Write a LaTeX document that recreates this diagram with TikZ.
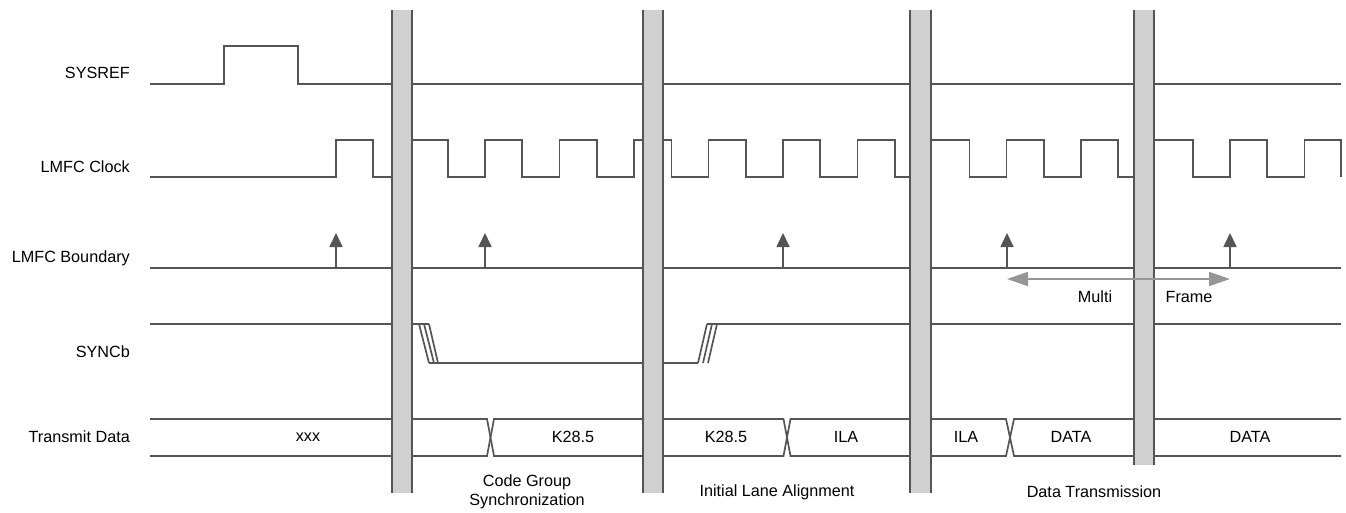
\documentclass[tikz,border=0pt]{standalone}
\usepackage{xcolor}
\usepackage{fontspec}
\setmainfont{Liberation Sans}
\usepackage{tikz}
\usetikzlibrary{arrows.meta,positioning,calc}

\definecolor{wavegray}{RGB}{85,85,85}
\definecolor{barfill}{RGB}{208,208,208}
\definecolor{mfgray}{RGB}{150,150,150}

\tikzset{
  wave/.style={draw=wavegray, line width=1.7pt},
  gapbar/.style={fill=barfill},
  gapedge/.style={draw=wavegray, line width=1.7pt},
  signame/.style={anchor=east, inner sep=0pt},
  txt/.style={inner sep=0pt},
  bnd/.style={wave, -{Triangle[length=14pt,width=13pt]}},
  mfarrow/.style={draw=mfgray, line width=1.7pt, {Triangle[length=21pt,width=14pt]}-{Triangle[length=21pt,width=14pt]}}
}

\begin{document}
\begin{tikzpicture}[x=1pt, y=-1pt, font=\fontsize{16.2}{19}\selectfont]
\useasboundingbox (0,0) rectangle (1346,513);

% Signal names
\node[signame] (nsysref) at (130,73) {SYSREF};
\node[signame] (nclock) at (130,167) {LMFC Clock};
\node[signame] (nbound) at (130,258) {LMFC Boundary};
\node[signame] (nsync) at (130,352) {SYNCb};
\node[signame] (ndata) at (130,437) {Transmit Data};

% SYSREF
\draw[wave] (150,84) -- (224,84) -- (224,46) -- (298,46) -- (298,84) -- (1341,84);

% LMFC Clock
\draw[wave] (150,177) -- (336,177) -- (336,140) -- (373,140) -- (373,177)
  -- (410.5,177) -- (410.5,140) -- (448,140) -- (448,177)
  -- (485,177) -- (485,140) -- (522,140) -- (522,177)
  -- (559.5,177) -- (559.5,140) -- (597,140) -- (597,177)
  -- (634,177) -- (634,140) -- (671.5,140) -- (671.5,177)
  -- (708.5,177) -- (708.5,140) -- (746,140) -- (746,177)
  -- (783,177) -- (783,140) -- (820,140) -- (820,177)
  -- (857.5,177) -- (857.5,140) -- (895,140) -- (895,177)
  -- (931,177) -- (931,140) -- (969.5,140) -- (969.5,177)
  -- (1006.5,177) -- (1006.5,140) -- (1044,140) -- (1044,177)
  -- (1081,177) -- (1081,140) -- (1118,140) -- (1118,177)
  -- (1154,177) -- (1154,140) -- (1193,140) -- (1193,177)
  -- (1230,177) -- (1230,140) -- (1267,140) -- (1267,177)
  -- (1304.5,177) -- (1304.5,140) -- (1341,140) -- (1341,177);

% LMFC Boundary
\draw[wave] (150,268) -- (1341,268);
\coordinate (b1) at (336,268);
\coordinate (b2) at (485,268);
\coordinate (b3) at (783,268);
\coordinate (b4) at (1007,268);
\coordinate (b5) at (1230,268);
\draw[bnd] (b1) -- ++(0,-35);
\draw[bnd] (b2) -- ++(0,-35);
\draw[bnd] (b3) -- ++(0,-35);
\draw[bnd] (b4) -- ++(0,-35);
\draw[bnd] (b5) -- ++(0,-35);

% SYNCb
\draw[wave] (150,324) -- (429,324);
\draw[wave] (419,324) -- (429,363);
\draw[wave] (424,324) -- (434,363);
\draw[wave] (429,324) -- (438,363);
\draw[wave] (429,363) -- (698,363);
\draw[wave] (698,363) -- (707,324);
\draw[wave] (703,363) -- (712,324);
\draw[wave] (708,363) -- (717,324);
\draw[wave] (707,324) -- (1341,324);

% Transmit Data
\draw[wave] (150,419) -- (487,419) -- (494,456) -- (783.5,456) -- (790.5,419) -- (1006,419) -- (1014,456) -- (1341,456);
\draw[wave] (150,456) -- (487,456) -- (494,419) -- (783.5,419) -- (790.5,456) -- (1006,456) -- (1014,419) -- (1341,419);
\node[txt] (dxxx) at (308,437) {xxx};
\node[txt] (dk1) at (573,437) {K28.5};
\node[txt] (dk2) at (726,437) {K28.5};
\node[txt] (dila1) at (846,437) {ILA};
\node[txt] (dila2) at (966,437) {ILA};
\node[txt] (ddata1) at (1071,437) {DATA};
\node[txt] (ddata2) at (1250,437) {DATA};

% Break bars
\fill[gapbar] (392,10) rectangle (412,493);
\draw[gapedge] (392,10) -- (392,493) (412,10) -- (412,493);
\fill[gapbar] (643,10) rectangle (663,493);
\draw[gapedge] (643,10) -- (643,493) (663,10) -- (663,493);
\fill[gapbar] (910,10) rectangle (931,493);
\draw[gapedge] (910,10) -- (910,493) (931,10) -- (931,493);
\fill[gapbar] (1134,10) rectangle (1154,465);
\draw[gapedge] (1134,10) -- (1134,465) (1154,10) -- (1154,465);

% Multi frame
\draw[mfarrow] ($(b4)+(0,11)$) -- ($(b5)+(0,11)$);
\node[txt] (multi) at (1095,297) {Multi};
\node[txt] (frame) at (1189,297) {Frame};

% Phases
\node[txt, align=center] (cgs) at (527,492) {Code Group\\Synchronization};
\node[txt] (ila) at (777,492) {Initial Lane Alignment};
\node[txt] (dtx) at (1094,492) {Data Transmission};

\end{tikzpicture}
\end{document}
